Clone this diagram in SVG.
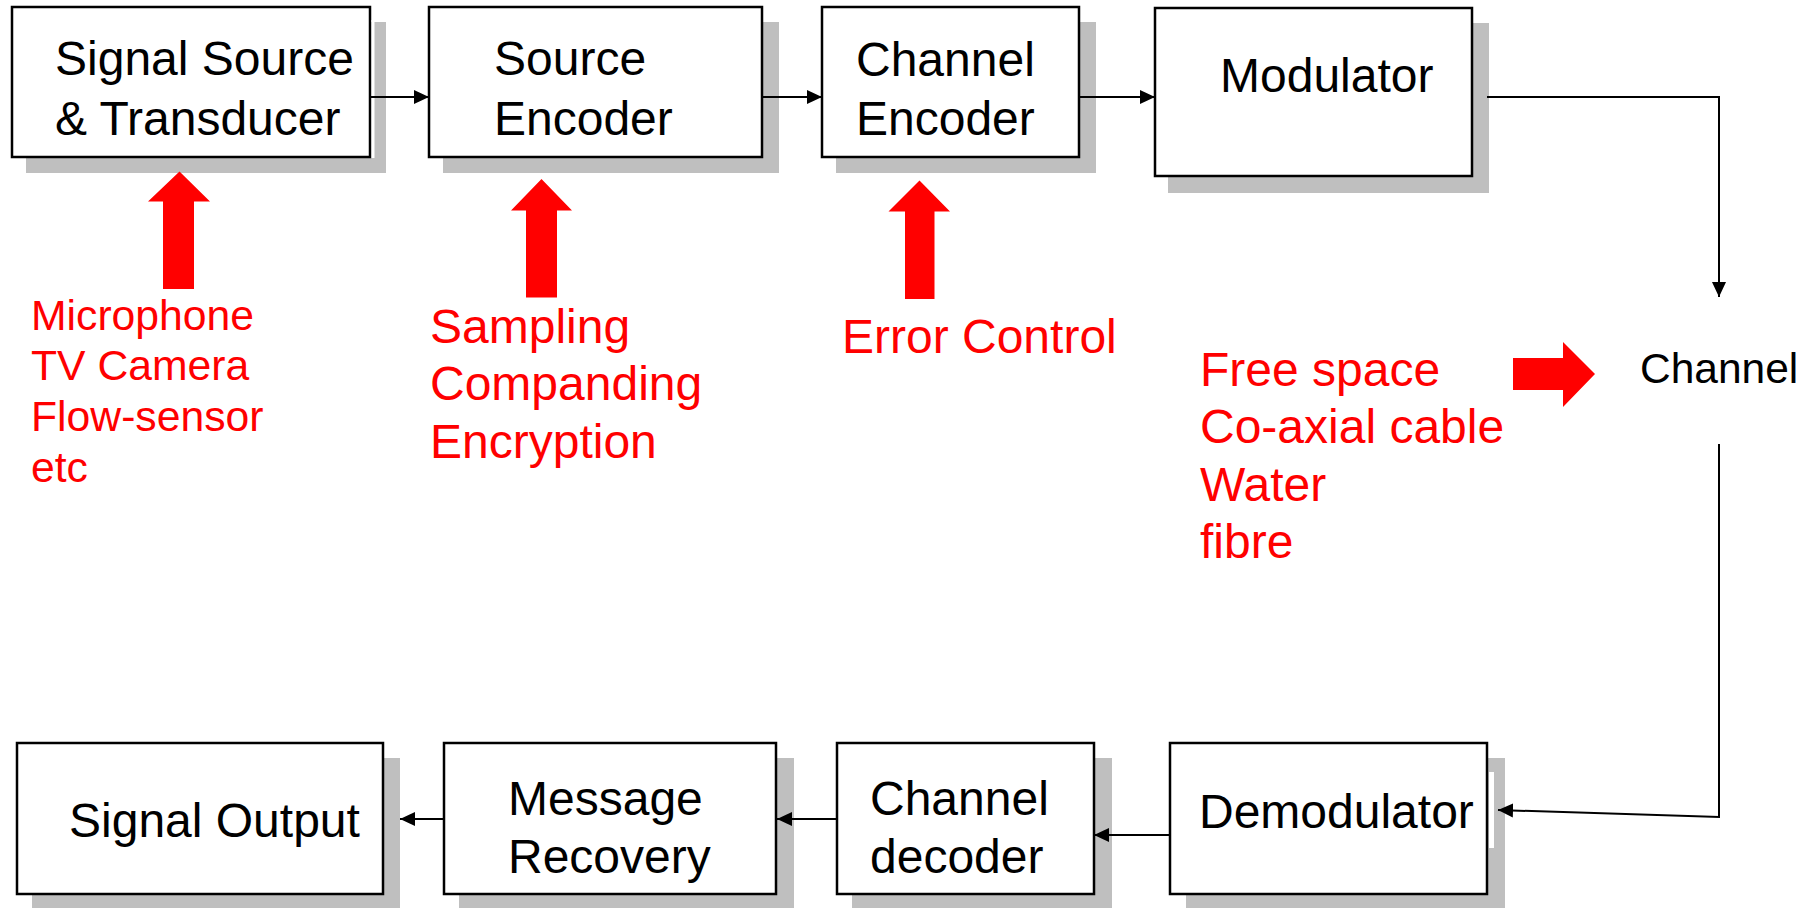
<svg xmlns="http://www.w3.org/2000/svg" width="1814" height="908" viewBox="0 0 1814 908">
<defs>
<style>
.box{fill:#fff;stroke:#000;stroke-width:2.5}
.shadow{fill:#bfbfbf}
.notch{fill:#fff}
.t{font-family:"Liberation Sans",Arial,sans-serif;font-size:48px;fill:#000}
.r{font-family:"Liberation Sans",Arial,sans-serif;font-size:48px;fill:#ff0000}
.r42{font-size:42.7px}
.c41{font-size:42.5px}
.conn{fill:none;stroke:#000;stroke-width:2}
.red{fill:#ff0000}
</style>
<marker id="ah" markerUnits="userSpaceOnUse" markerWidth="16" markerHeight="16" viewBox="0 0 16 16" refX="15" refY="8" orient="auto"><path d="M0,1 L15,8 L0,15 Z" fill="#000"/></marker>
</defs>
<rect width="1814" height="908" fill="#fff"/>

<g id="signal-source">
<rect class="shadow" x="26" y="22" width="360" height="151"/>
<rect class="box" x="12" y="7" width="358" height="150"/>
<rect class="notch" x="371.5" y="20" width="3" height="138"/>
<text class="t" x="55" y="75">Signal Source</text>
<text class="t" x="55" y="135">&amp; Transducer</text>
</g>

<g id="source-encoder">
<rect class="shadow" x="443" y="22" width="336" height="151"/>
<rect class="box" x="429" y="7" width="333" height="150"/>
<text class="t" x="494" y="75">Source</text>
<text class="t" x="494" y="135">Encoder</text>
</g>

<g id="channel-encoder">
<rect class="shadow" x="836" y="22" width="260" height="151"/>
<rect class="box" x="822" y="7" width="257" height="150"/>
<text class="t" x="856" y="76">Channel</text>
<text class="t" x="856" y="135">Encoder</text>
</g>

<g id="modulator">
<rect class="shadow" x="1168" y="23" width="321" height="170"/>
<rect class="box" x="1155" y="8" width="317" height="168"/>
<text class="t" x="1220" y="92">Modulator</text>
</g>

<g id="channel">
<text class="t c41" x="1640" y="383">Channel</text>
</g>

<g id="signal-output">
<rect class="shadow" x="32" y="758" width="368" height="150"/>
<rect class="box" x="17" y="743" width="366" height="151"/>
<text class="t" x="69" y="837">Signal Output</text>
</g>

<g id="message-recovery">
<rect class="shadow" x="459" y="758" width="335" height="150"/>
<rect class="box" x="444" y="743" width="332" height="151"/>
<text class="t" x="508" y="815">Message</text>
<text class="t" x="508" y="873">Recovery</text>
</g>

<g id="channel-decoder">
<rect class="shadow" x="852" y="758" width="260" height="150"/>
<rect class="box" x="837" y="743" width="257" height="151"/>
<text class="t" x="870" y="815">Channel</text>
<text class="t" x="870" y="873">decoder</text>
</g>

<g id="demodulator">
<rect class="shadow" x="1186" y="758" width="319" height="150"/>
<rect class="box" x="1170" y="743" width="317" height="151"/>
<rect class="notch" x="1489" y="772" width="5" height="76"/>
<text class="t" x="1199" y="828">Demodulator</text>
</g>

<g id="annotations">
<polygon class="red" points="179.5,171.5 210,201.5 194,201.5 194,289 163,289 163,201.5 148,201.5"/>
<polygon class="red" points="541.5,179 572,210.5 557,210.5 557,297.5 526,297.5 526,210.5 511,210.5"/>
<polygon class="red" points="919.5,180.5 950,211.5 934.5,211.5 934.5,299 905,299 905,211.5 888.5,211.5"/>
<polygon class="red" points="1513,358 1563,358 1563,342 1595,374 1563,407 1563,390 1513,390"/>
<text class="r r42" x="31" y="330">Microphone</text>
<text class="r r42" x="31" y="380">TV Camera</text>
<text class="r r42" x="31" y="431">Flow-sensor</text>
<text class="r r42" x="31" y="482">etc</text>
<text class="r" x="430" y="343">Sampling</text>
<text class="r" x="430" y="400">Companding</text>
<text class="r" x="430" y="458">Encryption</text>
<text class="r" x="842" y="353">Error Control</text>
<text class="r" x="1200" y="386">Free space</text>
<text class="r" x="1200" y="443">Co-axial cable</text>
<text class="r" x="1200" y="501">Water</text>
<text class="r" x="1200" y="558">fibre</text>
</g>

<g id="connectors">
<path class="conn" d="M371,97 H429" marker-end="url(#ah)"/>
<path class="conn" d="M762,97 H822" marker-end="url(#ah)"/>
<path class="conn" d="M1079,97 H1155" marker-end="url(#ah)"/>
<path class="conn" d="M1487,97 H1719 V297" marker-end="url(#ah)"/>
<path class="conn" d="M1719,444 V817 L1498,810" marker-end="url(#ah)"/>
<path class="conn" d="M1170,835 H1094" marker-end="url(#ah)"/>
<path class="conn" d="M837,819 H777" marker-end="url(#ah)"/>
<path class="conn" d="M444,819 H400" marker-end="url(#ah)"/>
</g>
</svg>
